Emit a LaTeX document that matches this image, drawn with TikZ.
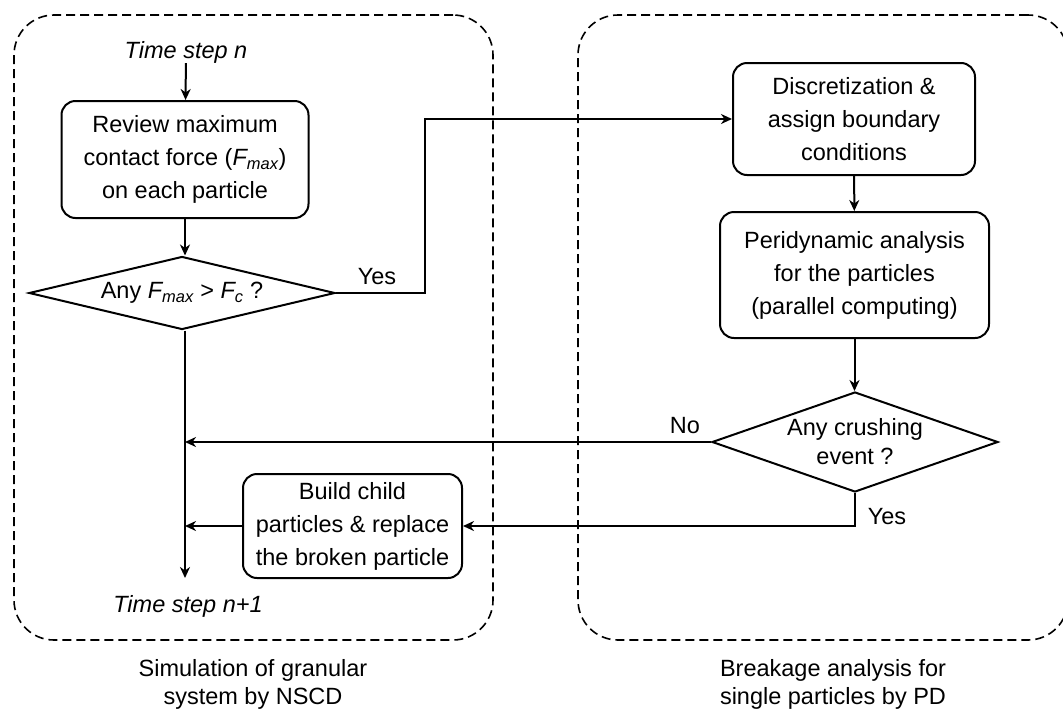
\documentclass[tikz,border=0pt]{standalone}
\usepackage{fontspec}
\setmainfont{Liberation Sans}
\usetikzlibrary{shapes.geometric,arrows.meta}
\begin{document}
\begin{tikzpicture}[x=1pt,y=-1pt,
  every node/.style={font=\fontsize{23.5}{33}\selectfont, inner sep=0pt},
  proc/.style={draw, rounded corners=14pt, line width=2pt, align=center},
  dec/.style={draw, diamond, line width=2pt},
  group/.style={draw, dash pattern=on 9pt off 5pt, rounded corners=40pt, line width=1.6pt},
  conn/.style={line width=2pt, -{Stealth[length=11pt,width=10pt,inset=3.5pt]}},
  caption/.style={align=center, font=\fontsize{23.5}{28}\selectfont}]
\useasboundingbox (0,0) rectangle (1063,710);

% groups
\node[group, minimum width=479pt, minimum height=625pt] (g1) at (253.5,327.5) {};
\node[group, minimum width=490pt, minimum height=625pt] (g2) at (823,327.5) {};

% left column
\node (tn) at (186,52) {\itshape Time step n};
\node[proc, minimum width=247pt, minimum height=117pt] (b1) at (185,159.5)
  {Review maximum\\contact force (\textit{F\textsubscript{max}})\\on each particle};
\node[dec, minimum width=306pt, minimum height=73pt,
  label={center:Any \textit{F\textsubscript{max}} > \textit{F\textsubscript{c}} ?}] (d1) at (182,293) {};
\coordinate (end) at (185,578);
\node (tn1) at (188,606) {\itshape Time step n+1};
\node[proc, minimum width=219pt, minimum height=104pt] (b4) at (352.5,526)
  {Build child\\particles \& replace\\the broken particle};

% right column
\node[proc, minimum width=242pt, minimum height=112pt] (b2) at (854,119)
  {Discretization \&\\assign boundary\\conditions};
\node[proc, minimum width=269pt, minimum height=126pt] (b3) at (854.5,275)
  {Peridynamic analysis\\for the particles\\(parallel computing)};
\node[dec, minimum width=286pt, minimum height=100pt,
  label={[align=center, font=\fontsize{23.5}{29}\selectfont]center:Any crushing\\event ?}] (d2) at (855,442) {};

% labels
\node (yes1) at (377,277) {Yes};
\node (no) at (685,426) {No};
\node (yes2) at (887,517) {Yes};

% connectors
\draw[conn] (tn) -- (b1);
\draw[conn] (b1) -- (b1.south |- d1.north);
\draw[conn] (d1.east) -- ++(89,0) |- (b2.west);
\draw[conn] (b2) -- (b3);
\draw[conn] (b3) -- (b3.south |- d2.north);
\draw[conn] (d2.west) -- (d2.west -| end);
\draw[conn] (d2.south) |- (b4.east);
\draw[conn] (b4.west) -- (b4.west -| end);
\draw[conn] (d1.south -| end) -- (end);

% captions
\node[caption] (c1) at (253,684.5) {Simulation of granular\\system by NSCD};
\node[caption] (c2) at (833,684.5) {Breakage analysis for\\single particles by PD};
\end{tikzpicture}
\end{document}
